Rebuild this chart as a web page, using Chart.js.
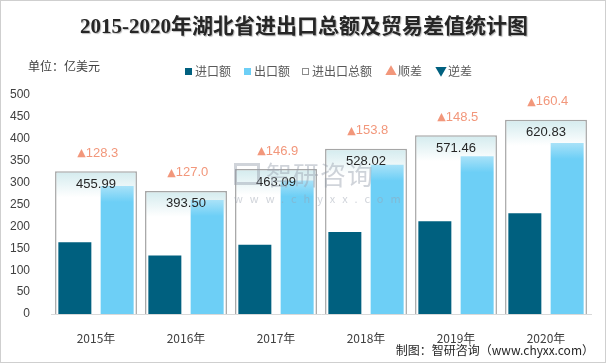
<!DOCTYPE html>
<html>
<head>
<meta charset="utf-8">
<script src="https://cdn.jsdelivr.net/npm/chart.js@4/dist/chart.umd.min.js"></script>
<style>
body{margin:0;}
#wrap{position:relative;width:606px;height:363px;background:#fff;border:1px solid #cfcfcf;box-sizing:border-box;overflow:hidden;font-family:"Noto Sans CJK SC","Noto Sans",sans-serif;}
#title{position:absolute;left:0;top:8px;width:606px;text-align:center;font:bold 21px "Liberation Serif","Noto Sans CJK SC",serif;color:#262626;text-shadow:1px 1px 1px #b8b8b8;}
#unit{position:absolute;left:27px;top:56px;font-size:12px;color:#404040;}
.lg{position:absolute;top:61px;font-size:12px;color:#595959;white-space:nowrap;}
.sq{display:inline-block;width:7px;height:7px;margin-right:3px;vertical-align:1px;box-sizing:border-box;}
.tri{font-size:12px;margin-right:1px;}
#foot{position:absolute;right:11px;top:340px;font-size:12px;color:#262626;}
#wm{position:absolute;left:233px;top:159px;color:#98a0ae;opacity:.45;pointer-events:none;}
#wm .big{font-size:26px;letter-spacing:1px;margin-left:32px;line-height:28px;}
#wm .sm{font-size:11px;letter-spacing:7px;margin-top:2px;}
#wm .logo{position:absolute;left:0;top:3px;width:26px;height:22px;border:3px solid #98a0ae;box-sizing:border-box;}
canvas{position:absolute;left:0;top:0;}
</style>
</head>
<body>
<div id="wrap">
<canvas id="myChart" width="606" height="363"></canvas>
<div id="title">2015-2020年湖北省进出口总额及贸易差值统计图</div>
<div id="unit">单位：亿美元</div>
<div class="lg" style="left:184px"><span class="sq" style="background:#00607f"></span>进口额</div>
<div class="lg" style="left:243px"><span class="sq" style="background:#6dcff6"></span>出口额</div>
<div class="lg" style="left:301px"><span class="sq" style="border:1px solid #8c8c8c"></span>进出口总额</div>
<div class="lg" style="left:384px"><span class="tri" style="color:#f2977b">▲</span>顺差</div>
<div class="lg" style="left:434px"><span class="tri" style="color:#00607f">▼</span>逆差</div>
<div id="foot">制图：智研咨询（www.chyxx.com）</div>
<div id="wm"><div class="logo"></div><div class="big">智研咨询</div><div class="sm">www.chyxx.com</div></div>
</div>
<script>
// data (亿美元)
var years = ['2015年','2016年','2017年','2018年','2019年','2020年'];
var imports = [163.8, 133.3, 158.1, 187.1, 211.5, 230.2];
var exports = [292.2, 260.2, 305.0, 340.9, 360.0, 390.6];
var totals = [455.99, 393.50, 463.09, 528.02, 571.46, 620.83];
var balance = [128.3, 127.0, 146.9, 153.8, 148.5, 160.4];
var yTicks = [0,50,100,150,200,250,300,350,400,450,500];

function boxFill(context){
    var chart = context.chart;
    if(!chart.chartArea || !chart.scales.y2) return '#fff';
    var top = chart.scales.y2.getPixelForValue(totals[context.dataIndex]);
    var g = chart.ctx.createLinearGradient(0, top, 0, top + 26);
    g.addColorStop(0, '#d3ebee');
    g.addColorStop(1, '#ffffff');
    return g;
}

function exportFill(context){
    var chart = context.chart;
    if(!chart.chartArea || !chart.scales.y) return '#6dcff6';
    var top = chart.scales.y.getPixelForValue(exports[context.dataIndex]);
    var g = chart.ctx.createLinearGradient(0, top, 0, top + 16);
    g.addColorStop(0, '#a9e2f8');
    g.addColorStop(1, '#6dcff6');
    return g;
}

var labelPlugin = {
    id: 'labels',
    afterDatasetsDraw: function(chart){
        var ctx = chart.ctx;
        var meta = chart.getDatasetMeta(2);
        ctx.save();
        ctx.textBaseline = 'middle';
        meta.data.forEach(function(bar, i){
            ctx.fillStyle = '#262626';
            ctx.textAlign = 'center';
            ctx.font = '13px "Liberation Sans", sans-serif';
            ctx.fillText(totals[i].toFixed(2), bar.x, bar.y + 13);
            var txt = balance[i].toFixed(1);
            var w = ctx.measureText(txt).width;
            ctx.fillStyle = '#f2977b';
            ctx.textAlign = 'left';
            ctx.fillText(txt, bar.x - w / 2 + 6, bar.y - 18);
            ctx.font = '11px "DejaVu Sans", sans-serif';
            ctx.textAlign = 'right';
            ctx.fillText('▲', bar.x - w / 2 + 6, bar.y - 18);
        });
        ctx.restore();
    }
};

var ctx = document.getElementById('myChart').getContext('2d');
var chart = new Chart(ctx, {
    type: 'bar',
    data: {
        labels: years,
        datasets: [{
            label: '进口额',
            data: imports,
            backgroundColor: '#00607f',
            categoryPercentage: 0.94,
            barPercentage: 0.78,
            order: 1
        }, {
            label: '出口额',
            data: exports,
            backgroundColor: exportFill,
            categoryPercentage: 0.94,
            barPercentage: 0.78,
            order: 1
        }, {
            label: '进出口总额',
            data: totals,
            yAxisID: 'y2',
            grouped: false,
            backgroundColor: boxFill,
            borderColor: '#a6a6a6',
            borderWidth: 1.5,
            borderSkipped: 'bottom',
            categoryPercentage: 0.91,
            barPercentage: 1,
            order: 2
        }]
    },
    options: {
        responsive: false,
        animation: false,
        layout: {padding: {left: 0, right: 16, top: 94, bottom: 20}},
        plugins: {legend: {display: false}, tooltip: {enabled: false}},
        scales: {
            x: {
                grid: {display: false},
                border: {color: '#d9d9d9', width: 1},
                ticks: {color: '#404040', font: {size: 12, family: '"Noto Sans CJK SC", sans-serif'}, padding: 9},
                afterFit: function(s){ s.height = 30; }
            },
            y: {
                min: 0, max: 500,
                afterBuildTicks: function(s){ s.ticks = yTicks.map(function(v){ return {value: v}; }); },
                grid: {display: false},
                border: {display: false},
                ticks: {color: '#404040', font: {size: 12, family: '"Liberation Sans", sans-serif'}, padding: 13},
                afterFit: function(s){ s.width = 50; }
            },
            y2: {display: false, min: 0, max: 700}
        }
    },
    plugins: [labelPlugin]
});
</script>
</body>
</html>
